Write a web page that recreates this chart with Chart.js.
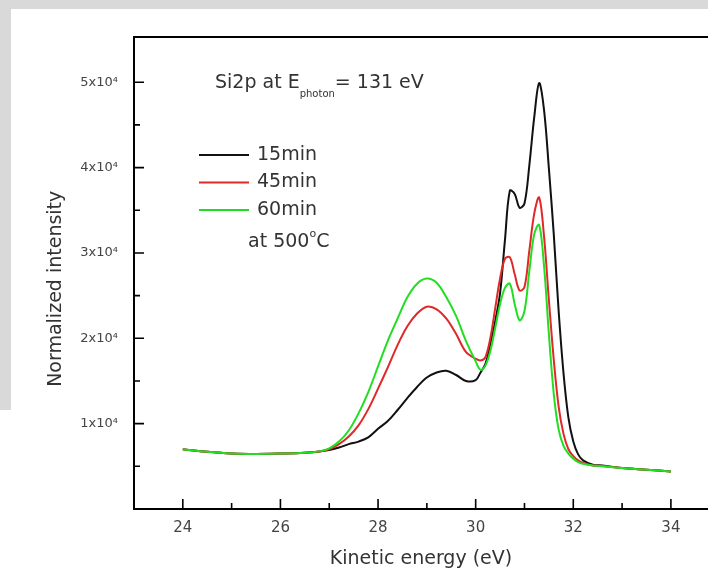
<!DOCTYPE html>
<html>
<head>
<title>Si2p spectra</title>
<style>
body { margin: 0; background: #fff; }
#wrap { position: relative; width: 708px; height: 573px; background: #d9d9d9; overflow: hidden; }
#paper { position: absolute; left: 11px; top: 9px; right: 0; bottom: 0; background: #fff; }
#paper2 { position: absolute; left: 0; top: 410px; width: 11px; bottom: 0; background: #fff; }
#c { position: absolute; left: 0; top: 0; }
</style>
</head>
<body>
<div id="wrap">
  <div id="paper"></div>
  <div id="paper2"></div>
  <canvas id="c" width="708" height="573"></canvas>
</div>
<script src="https://cdn.jsdelivr.net/npm/chart.js@4.4.1/dist/chart.umd.min.js"></script>
<script>
// kinetic energy grid (eV)
const energy = [24, 24.5, 25, 25.5, 26, 26.5, 26.8, 27, 27.2, 27.4, 27.6, 27.8, 28, 28.2, 28.4, 28.6, 28.8, 29, 29.2, 29.4, 29.6, 29.8, 30,
  30.1, 30.2, 30.3, 30.4, 30.5, 30.6, 30.7, 30.8, 30.9, 31, 31.1, 31.2, 31.3, 31.4, 31.5, 31.6, 31.7, 31.8, 31.9, 32, 32.1, 32.2,
  32.4, 32.6, 33, 33.5, 34];

// normalized intensity
const int15 = [7000, 6700, 6500, 6450, 6500, 6600, 6750, 6900, 7200, 7600, 7900, 8400, 9400, 10300, 11600, 13000, 14300, 15400, 16000, 16200, 15700, 15000, 15100,
  16000, 17000, 19300, 22000, 25300, 31500, 37300, 36900, 35300, 35800, 40300, 45900, 49900, 46800, 39900, 32200, 23200, 15900, 10700, 7900, 6400, 5700,
  5200, 5100, 4800, 4600, 4400];
const int45 = [7000, 6700, 6500, 6450, 6500, 6600, 6750, 7000, 7600, 8500, 9800, 11700, 14100, 16600, 19200, 21400, 22900, 23700, 23400, 22300, 20500, 18400, 17600,
  17400, 17800, 20000, 23500, 27000, 29300, 29500, 27500, 25600, 26000, 30300, 34600, 36500, 32000, 24500, 17500, 12000, 8800, 7000, 6200, 5700, 5400,
  5100, 5050, 4800, 4600, 4400];
const int60 = [7000, 6700, 6500, 6450, 6500, 6600, 6750, 7100, 7900, 9200, 11200, 13700, 16700, 19700, 22300, 24800, 26400, 27000, 26500, 24800, 22600, 19700, 17300,
  16300, 16800, 18500, 21200, 24000, 25900, 26400, 24000, 22100, 23200, 27900, 32200, 33300, 28500, 20500, 13500, 9300, 7400, 6500, 5900, 5500, 5300,
  5100, 5000, 4800, 4600, 4400];

const seriesNames = ['15min', '45min', '60min'];
const seriesColors = ['#111111', '#e02828', '#22dd22'];

const xTicks = [24, 26, 28, 30, 32, 34];
const xMinor = [25, 27, 29, 31, 33];
const yTicks = [10000, 20000, 30000, 40000, 50000];
const yMinor = [5000, 15000, 25000, 35000, 45000];

const FONT = 'DejaVu Sans';
Chart.defaults.font.family = FONT;

function pts(ys) {
  return energy.map((e, i) => ({ x: e, y: ys[i] }));
}

function font(px) { return px + 'px "' + FONT + '"'; }

// frame, inward ticks, y title, legend and annotation
const overlay = {
  id: 'overlay',
  afterDraw(chart) {
    const ctx = chart.ctx, a = chart.chartArea;
    const x = chart.scales.x, y = chart.scales.y;
    ctx.save();
    ctx.strokeStyle = '#000';
    ctx.lineWidth = 2;
    ctx.beginPath();
    ctx.moveTo(a.right + 5, a.top);
    ctx.lineTo(a.left, a.top);
    ctx.lineTo(a.left, a.bottom);
    ctx.lineTo(a.right + 5, a.bottom);
    ctx.stroke();

    ctx.lineWidth = 1.6;
    ctx.beginPath();
    xTicks.forEach(v => { const p = x.getPixelForValue(v); ctx.moveTo(p, a.bottom); ctx.lineTo(p, a.bottom - 10); });
    xMinor.forEach(v => { const p = x.getPixelForValue(v); ctx.moveTo(p, a.bottom); ctx.lineTo(p, a.bottom - 6); });
    yTicks.forEach(v => { const p = y.getPixelForValue(v); ctx.moveTo(a.left, p); ctx.lineTo(a.left + 10, p); });
    yMinor.forEach(v => { const p = y.getPixelForValue(v); ctx.moveTo(a.left, p); ctx.lineTo(a.left + 6, p); });
    ctx.stroke();

    ctx.fillStyle = '#333';
    ctx.textBaseline = 'middle';

    // y axis title
    ctx.save();
    ctx.translate(56, y.getPixelForValue(25800));
    ctx.rotate(-Math.PI / 2);
    ctx.textAlign = 'center';
    ctx.font = font(19);
    ctx.fillText('Normalized intensity', 0, 0);
    ctx.restore();

    // annotation
    ctx.font = font(19);
    let tx = a.left + 81, ty = y.getPixelForValue(50000) + 1;
    ctx.fillText('Si2p at E', tx, ty);
    tx += ctx.measureText('Si2p at E').width;
    ctx.font = font(10);
    ctx.fillText('photon', tx, ty + 11);
    tx += ctx.measureText('photon').width;
    ctx.font = font(19);
    ctx.fillText('= 131 eV', tx, ty);

    // legend
    const lx = a.left + 65, ly = a.top + 118;
    seriesNames.forEach((n, i) => {
      const yy = ly + i * 27.5;
      ctx.strokeStyle = seriesColors[i];
      ctx.lineWidth = 2;
      ctx.beginPath();
      ctx.moveTo(lx, yy);
      ctx.lineTo(lx + 50, yy);
      ctx.stroke();
      ctx.fillText(n, lx + 58, yy);
    });
    const cy = ly + 3 * 27.5 + 5;
    ctx.fillText('at 500', lx + 49, cy);
    let cx = lx + 49 + ctx.measureText('at 500').width;
    ctx.font = font(11);
    ctx.fillText('o', cx, cy - 8);
    cx += ctx.measureText('o').width;
    ctx.font = font(19);
    ctx.fillText('C', cx, cy);
    ctx.restore();
  }
};

new Chart(document.getElementById('c'), {
  type: 'line',
  data: {
    datasets: [
      { label: seriesNames[0], data: pts(int15), borderColor: seriesColors[0], order: 3 },
      { label: seriesNames[1], data: pts(int45), borderColor: seriesColors[1], order: 2 },
      { label: seriesNames[2], data: pts(int60), borderColor: seriesColors[2], order: 1 }
    ]
  },
  options: {
    responsive: false,
    animation: false,
    devicePixelRatio: 1,
    layout: { padding: { top: 37, left: 0, right: 0, bottom: 0 } },
    elements: {
      line: { borderWidth: 2, tension: 0.35, fill: false },
      point: { radius: 0 }
    },
    plugins: { legend: { display: false }, tooltip: { enabled: false } },
    scales: {
      x: {
        type: 'linear',
        min: 23,
        max: 34.76,
        grid: { display: false, drawTicks: false },
        border: { display: false },
        afterBuildTicks: s => { s.ticks = xTicks.map(v => ({ value: v })); },
        afterFit: s => { s.height = 64; },
        ticks: { color: '#444', font: { size: 15 }, padding: 10, maxRotation: 0, autoSkip: false },
        title: { display: true, text: 'Kinetic energy (eV)', color: '#333', font: { size: 19 }, padding: { top: 0, bottom: 3 } }
      },
      y: {
        min: 0,
        max: 55300,
        grid: { display: false, drawTicks: false },
        border: { display: false },
        afterBuildTicks: s => { s.ticks = yTicks.map(v => ({ value: v })); },
        afterFit: s => { s.width = 134; },
        ticks: { color: '#444', font: { size: 13 }, padding: 16, callback: v => (v / 10000) + 'x10\u2074' }
      }
    }
  },
  plugins: [overlay]
});
</script>
</body>
</html>
